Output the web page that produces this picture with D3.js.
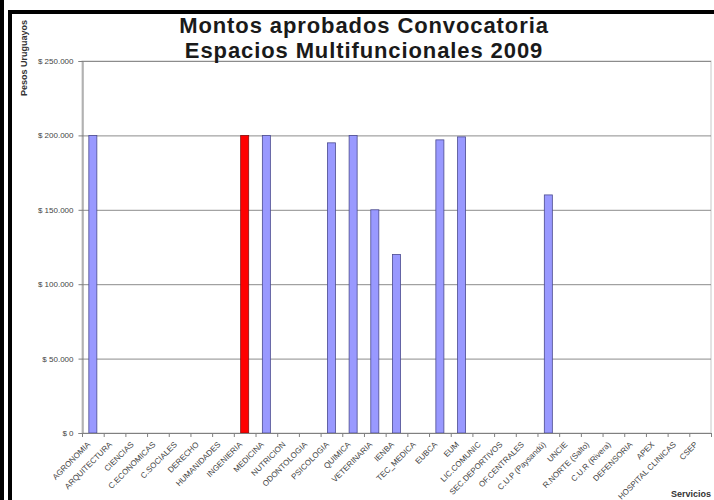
<!DOCTYPE html>
<html>
<head>
<meta charset="utf-8">
<script src="https://cdn.jsdelivr.net/npm/d3@7"></script>
<style>
  body { margin: 0; background: #fff; }
  svg { display: block; font-family: Arial, "Liberation Sans", sans-serif; }
</style>
</head>
<body>
<div class="viz"></div>
<script>
// datos
var servicios = [
  "AGRONOMIA", "ARQUITECTURA", "CIENCIAS", "C.ECONOMICAS", "C.SOCIALES", "DERECHO",
  "HUMANIDADES", "INGENIERIA", "MEDICINA", "NUTRICION", "ODONTOLOGIA", "PSICOLOGIA",
  "QUIMICA", "VETERINARIA", "IENBA", "TEC_MEDICA", "EUBCA", "EUM", "LIC.COMUNIC",
  "SEC.DEPORTIVOS", "OF.CENTRALES", "C.U.P (Paysandú)", "UNCIE", "R.NORTE (Salto)",
  "C.U.R (Rivera)", "DEFENSORIA", "APEX", "HOSPITAL CLINICAS", "CSEP"
];
var montos = [
  200000, 0, 0, 0, 0, 0,
  0, 200000, 200000, 0, 0, 195000,
  200000, 150000, 120000, 0, 197000, 199000, 0,
  0, 0, 160000, 0, 0,
  0, 0, 0, 0, 0
];
var destacado = ["INGENIERIA"];
var yTicks = [0, 50000, 100000, 150000, 200000, 250000];
var yTickLabels = ["$ 0", "$ 50.000", "$ 100.000", "$ 150.000", "$ 200.000", "$ 250.000"];
var titulo = ["Montos aprobados Convocatoria", "Espacios Multifuncionales 2009"];

var width = 714, height = 500;
var plot = { left: 82, right: 711, top: 61, bottom: 433 };

var svg = d3.select(".viz").append("svg").attr("width", width).attr("height", height);

// marcos negros
svg.append("rect").attr("x", 0).attr("y", 0).attr("width", 4).attr("height", height).attr("fill", "#000");
svg.append("rect").attr("x", 8).attr("y", 10).attr("width", 4).attr("height", height - 10).attr("fill", "#000");
svg.append("rect").attr("x", 8).attr("y", 10).attr("width", width - 8).attr("height", 4).attr("fill", "#000");

var x = d3.scaleBand().domain(servicios).range([plot.left, plot.right]).padding(0);
var y = d3.scaleLinear().domain([0, 250000]).range([plot.bottom, plot.top]);

// borde del area de trazado
svg.append("rect")
  .attr("x", plot.left).attr("y", plot.top)
  .attr("width", plot.right - plot.left).attr("height", plot.bottom - plot.top)
  .attr("fill", "none").attr("stroke", "#c8c8c8");

// lineas de division
svg.append("g").selectAll("line").data(yTicks.filter(d => d > 0)).enter().append("line")
  .attr("x1", plot.left).attr("x2", plot.right)
  .attr("y1", d => y(d) + 0.5).attr("y2", d => y(d) + 0.5)
  .attr("stroke", "#8c8c8c");

// barras
var bw = x.bandwidth() * 0.37;
svg.append("g").selectAll("rect").data(servicios).enter().append("rect")
  .attr("x", (d) => x(d) + (x.bandwidth() - bw) / 2)
  .attr("y", (d, i) => y(montos[i]))
  .attr("width", bw)
  .attr("height", (d, i) => y(0) - y(montos[i]))
  .attr("fill", d => destacado.indexOf(d) >= 0 ? "#ff0000" : "#9999ff")
  .attr("stroke", d => destacado.indexOf(d) >= 0 ? "#8a1010" : "#4b4b8f")
  .attr("stroke-width", 0.8);

// eje y
var yAxis = svg.append("g")
  .attr("transform", "translate(" + (plot.left + 0.5) + ",0)")
  .call(d3.axisLeft(y).tickValues(yTicks).tickFormat((d, i) => yTickLabels[i]).tickSize(4).tickPadding(5));
yAxis.select(".domain").attr("stroke", "#808080");
yAxis.selectAll(".tick line").attr("stroke", "#808080");
yAxis.selectAll(".tick text").attr("font-size", 8).attr("fill", "#444").attr("font-family", "Arial, 'Liberation Sans', sans-serif");

// eje x
var gx = svg.append("g");
gx.append("line")
  .attr("x1", plot.left).attr("x2", plot.right)
  .attr("y1", plot.bottom + 0.5).attr("y2", plot.bottom + 0.5)
  .attr("stroke", "#808080");
gx.selectAll("line.tk").data(servicios.concat(["__fin"])).enter().append("line")
  .attr("class", "tk")
  .attr("x1", d => (d === "__fin" ? plot.right : x(d)) + 0.5)
  .attr("x2", d => (d === "__fin" ? plot.right : x(d)) + 0.5)
  .attr("y1", plot.bottom).attr("y2", plot.bottom + 4)
  .attr("stroke", "#808080");
gx.selectAll("text").data(servicios).enter().append("text")
  .attr("transform", d => "translate(" + (x(d) + x.bandwidth() / 2 - 2) + "," + (plot.bottom + 12) + ") rotate(-45)")
  .attr("text-anchor", "end")
  .attr("font-size", 8)
  .attr("fill", "#444")
  .text(d => d);

// titulos de ejes
svg.append("text")
  .attr("transform", "translate(27,58) rotate(-90)")
  .attr("text-anchor", "middle")
  .attr("font-size", 9).attr("font-weight", "bold").attr("fill", "#333")
  .text("Pesos Uruguayos");
svg.append("text")
  .attr("x", 671).attr("y", 497)
  .attr("font-size", 9).attr("font-weight", "bold").attr("fill", "#333")
  .text("Servicios");

// titulo
svg.append("g").selectAll("text").data(titulo).enter().append("text")
  .attr("x", 364).attr("y", (d, i) => 33 + i * 25)
  .attr("text-anchor", "middle")
  .attr("font-size", 22).attr("font-weight", "bold").attr("letter-spacing", 0.9).attr("fill", "#1a1a1a")
  .text(d => d);
</script>
</body>
</html>
